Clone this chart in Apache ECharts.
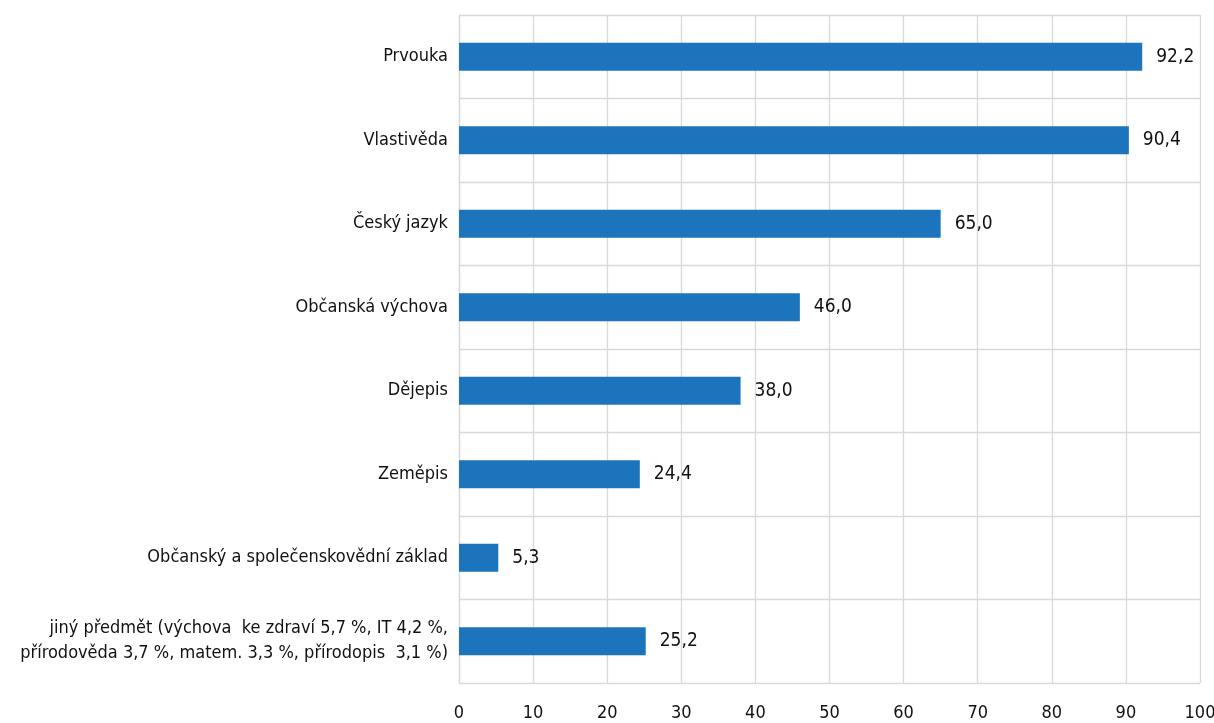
<!DOCTYPE html>
<html>
<head>
<meta charset="utf-8">
<script src="https://cdn.jsdelivr.net/npm/echarts@6/dist/echarts.min.js"></script>
<style>
html,body{margin:0;padding:0;background:#fff;}
#c{width:1214px;height:723px;}
</style>
</head>
<body>
<div id="c"></div>
<script>
const categories = [
  "Prvouka",
  "Vlastivěda",
  "Český jazyk",
  "Občanská výchova",
  "Dějepis",
  "Zeměpis",
  "Občanský a společenskovědní základ",
  "jiný předmět (výchova  ke zdraví 5,7 %, IT 4,2 %,\npřírodověda 3,7 %, matem. 3,3 %, přírodopis  3,1 %)"
];
const values = [92.2, 90.4, 65.0, 46.0, 38.0, 24.4, 5.3, 25.2];
const xTicks = { min: 0, max: 100, interval: 10 };

const FONT = '"Liberation Sans Narrow", "DejaVu Sans Condensed", "Noto Sans", sans-serif';
const chart = echarts.init(document.getElementById('c'), null, { renderer: 'canvas' });
chart.setOption({
  animation: false,
  textStyle: { fontFamily: FONT },
  grid: { left: 459, right: 14, top: 15, bottom: 40, containLabel: false, outerBoundsMode: 'none' },
  xAxis: {
    type: 'value', min: xTicks.min, max: xTicks.max, interval: xTicks.interval,
    axisLine: { show: false }, axisTick: { show: false },
    axisLabel: { color: '#111', fontSize: 18, fontFamily: FONT, margin: 21 },
    splitLine: { show: true, lineStyle: { color: '#d9d9d9', width: 1.3 } }
  },
  yAxis: {
    type: 'category', data: categories, inverse: true,
    axisLine: { show: true, lineStyle: { color: '#d9d9d9', width: 1.3 } },
    axisTick: { show: false },
    axisLabel: { color: '#111', fontSize: 18, fontFamily: FONT, margin: 11, lineHeight: 25, align: 'right' },
    splitLine: { show: true, lineStyle: { color: '#d9d9d9', width: 1.3 } }
  },
  series: [{
    type: 'bar', data: values, barWidth: 28,
    itemStyle: { color: '#1c75bc' },
    label: {
      show: true, position: 'right', distance: 14, color: '#111', fontSize: 19, fontFamily: FONT,
      formatter: p => p.value.toFixed(1).replace('.', ',')
    }
  }]
});
</script>
</body>
</html>
